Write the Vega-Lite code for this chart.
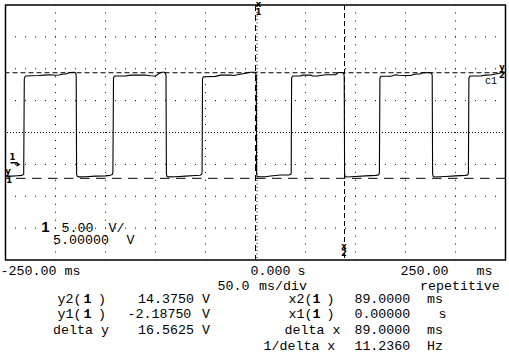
{
  "$schema": "https://vega.github.io/schema/vega-lite/v6.json",
  "width": 500,
  "height": 255,
  "autosize": "none",
  "padding": {"left": 5.5, "top": 5, "right": 3.5, "bottom": 96},
  "background": "white",
  "config": {"view": {"stroke": "black", "strokeWidth": 1.5}},
  "datasets": {
    "wave": [
      {"t":-250,"v":-1.85},{"t":-244,"v":-1.85},{"t":-238,"v":-1.78},{"t":-233.5,"v":-1.72},{"t":-231.8,"v":-1.55},{"t":-231.2,"v":13.4},{"t":-230.5,"v":13.76},{"t":-229.5,"v":13.86},{"t":-224,"v":13.9},{"t":-217,"v":13.94},{"t":-211,"v":14.0},{"t":-205,"v":14.07},{"t":-201,"v":13.98},{"t":-197,"v":14.02},{"t":-192,"v":14.18},{"t":-189,"v":14.2},{"t":-186,"v":14.42},{"t":-181,"v":14.45},{"t":-179.8,"v":14.3},{"t":-179.3,"v":13.9},{"t":-178.9,"v":-1.5},{"t":-178.3,"v":-1.88},{"t":-177,"v":-1.96},{"t":-170,"v":-1.95},{"t":-160,"v":-1.85},{"t":-150,"v":-1.8},{"t":-145.5,"v":-1.72},{"t":-143.2,"v":-1.6},{"t":-142.6,"v":-1.3},
      {"t":-142.0,"v":13.5},{"t":-141.3,"v":13.8},{"t":-140,"v":13.86},{"t":-130,"v":13.86},{"t":-125,"v":14.0},{"t":-110,"v":14.02},{"t":-105,"v":13.9},{"t":-100,"v":13.86},{"t":-97,"v":14.2},{"t":-94,"v":14.44},{"t":-91,"v":14.45},{"t":-90,"v":14.3},{"t":-89.5,"v":13.9},{"t":-89.1,"v":-1.5},{"t":-88.5,"v":-1.88},{"t":-87,"v":-1.96},{"t":-80,"v":-1.95},{"t":-70,"v":-1.85},{"t":-60,"v":-1.75},{"t":-55.5,"v":-1.7},{"t":-53.8,"v":-1.55},{"t":-53.4,"v":-1.2},
      {"t":-53.0,"v":13.4},{"t":-52.3,"v":13.72},{"t":-51,"v":13.75},{"t":-40,"v":13.8},{"t":-35,"v":14.0},{"t":-25,"v":14.02},{"t":-22,"v":13.95},{"t":-18,"v":14.05},{"t":-10,"v":14.3},{"t":-5,"v":14.44},{"t":-0.5,"v":14.45},{"t":0.4,"v":14.2},{"t":0.8,"v":13.9},{"t":1.1,"v":-1.5},{"t":1.7,"v":-1.88},{"t":3,"v":-1.95},{"t":10,"v":-1.95},{"t":15,"v":-1.82},{"t":20,"v":-1.75},{"t":25,"v":-1.67},{"t":33,"v":-1.67},{"t":35.2,"v":-1.6},{"t":35.7,"v":-1.3},
      {"t":36.1,"v":13.5},{"t":36.8,"v":13.8},{"t":38,"v":13.86},{"t":45,"v":13.86},{"t":47,"v":14.0},{"t":55,"v":14.02},{"t":57,"v":13.86},{"t":62,"v":13.86},{"t":65,"v":13.95},{"t":70,"v":14.07},{"t":80,"v":14.07},{"t":83,"v":14.4},{"t":87.5,"v":14.42},{"t":88.3,"v":14.2},{"t":88.7,"v":13.9},{"t":89.1,"v":-1.5},{"t":89.7,"v":-1.88},{"t":91,"v":-1.98},{"t":100,"v":-1.9},{"t":110,"v":-1.8},{"t":120,"v":-1.72},{"t":123.3,"v":-1.65},{"t":123.9,"v":-1.35},
      {"t":124.4,"v":13.5},{"t":125.1,"v":13.8},{"t":126.5,"v":13.82},{"t":135,"v":13.82},{"t":138,"v":13.95},{"t":140,"v":14.07},{"t":143,"v":13.98},{"t":150,"v":13.94},{"t":155,"v":13.95},{"t":160,"v":14.18},{"t":165,"v":14.2},{"t":167,"v":14.38},{"t":175,"v":14.4},{"t":176.3,"v":14.25},{"t":176.7,"v":13.9},{"t":177.1,"v":-1.5},{"t":177.7,"v":-1.88},{"t":179,"v":-1.98},{"t":190,"v":-1.9},{"t":200,"v":-1.8},{"t":210,"v":-1.72},{"t":212.3,"v":-1.65},{"t":212.9,"v":-1.35},
      {"t":213.4,"v":13.5},{"t":214.1,"v":13.8},{"t":215.5,"v":13.86},{"t":225,"v":13.86},{"t":230,"v":14.0},{"t":235,"v":14.02},{"t":240,"v":14.18},{"t":244,"v":14.3},{"t":246,"v":14.44},{"t":250,"v":14.45}
    ],
    "vgrid": [{"t":-200},{"t":-150},{"t":-100},{"t":-50},{"t":50},{"t":100},{"t":150},{"t":200}],
    "hgrid": [{"v":20},{"v":15},{"v":10},{"v":0},{"v":-5},{"v":-10}],
    "cx": [{"t":1.5}],
    "cy": [{"v":5}],
    "y1": [{"v":-2.1875}],
    "y2": [{"v":14.375}],
    "x1": [{"t":0}],
    "x2": [{"t":89}],
    "gnd": [{"t":-237,"v":0}],
    "gndstem": [{"t":-245,"t2":-238,"v":0.25}],
    "lab": [
      {"t":-255,"v":-17.28,"text":"-250.00"},
      {"t":-191,"v":-17.28,"text":"ms"},
      {"t":-5,"v":-17.28,"text":"0.000"},
      {"t":42,"v":-17.28,"text":"s"},
      {"t":145,"v":-17.28,"text":"250.00"},
      {"t":221,"v":-17.28,"text":"ms"},
      {"t":-38,"v":-19.78,"text":"50.0"},
      {"t":3.5,"v":-19.78,"text":"ms/div"},
      {"t":164.5,"v":-19.78,"text":"repetitive"},
      {"t":-198,"v":-21.67,"text":"y2("},
      {"t":-157.5,"v":-21.67,"text":")"},
      {"t":-117.5,"v":-21.67,"text":"14.3750"},
      {"t":-53.5,"v":-21.67,"text":"V"},
      {"t":33,"v":-21.67,"text":"x2("},
      {"t":71,"v":-21.67,"text":")"},
      {"t":98.9,"v":-21.67,"text":"89.0000"},
      {"t":171.5,"v":-21.67,"text":"ms"},
      {"t":-198,"v":-24.1,"text":"y1("},
      {"t":-157.5,"v":-24.1,"text":")"},
      {"t":-128,"v":-24.1,"text":"-2.18750"},
      {"t":-53.5,"v":-24.1,"text":"V"},
      {"t":33,"v":-24.1,"text":"x1("},
      {"t":71,"v":-24.1,"text":")"},
      {"t":98.9,"v":-24.1,"text":"0.00000"},
      {"t":183,"v":-24.1,"text":"s"},
      {"t":-202.5,"v":-26.61,"text":"delta y"},
      {"t":-117.5,"v":-26.61,"text":"16.5625"},
      {"t":-53.5,"v":-26.61,"text":"V"},
      {"t":29,"v":-26.61,"text":"delta x"},
      {"t":98.9,"v":-26.61,"text":"89.0000"},
      {"t":171.5,"v":-26.61,"text":"ms"},
      {"t":8,"v":-29.04,"text":"1/delta x"},
      {"t":98.9,"v":-29.04,"text":"11.2360"},
      {"t":171.5,"v":-29.04,"text":"Hz"},
      {"t":-194,"v":-10.53,"text":"5.00"},
      {"t":-147,"v":-10.53,"text":"V/"},
      {"t":-202.5,"v":-12.49,"text":"5.00000"},
      {"t":-129,"v":-12.49,"text":"V"}
    ],
    "bold1": [
      {"t":-172,"v":-21.67,"text":"1"},
      {"t":57,"v":-21.67,"text":"1"},
      {"t":-172,"v":-24.1,"text":"1"},
      {"t":57,"v":-24.1,"text":"1"}
    ],
    "big": [{"t":-210,"v":-10.56,"text":"1"}],
    "marks": [
      {"t":3,"v":24.7,"text":"x"},
      {"t":3,"v":23.45,"text":"1"},
      {"t":88.5,"v":-13.35,"text":"x"},
      {"t":88.5,"v":-14.37,"text":"2"},
      {"t":246.5,"v":14.8,"text":"y"},
      {"t":246.5,"v":13.5,"text":"2"},
      {"t":-247.5,"v":-1.51,"text":"y"},
      {"t":-246.3,"v":-2.87,"text":"1"},
      {"t":-243,"v":0.69,"text":"1"}
    ],
    "chan": [{"t":229.5,"v":12.53,"text":"c1"}]
  },
  "layer": [
    {
      "data": {"name": "vgrid"},
      "mark": {"type": "rule", "stroke": "black", "strokeWidth": 1, "strokeDash": [1, 6.97], "strokeDashOffset": 0.5},
      "encoding": {"x": {"field": "t", "type": "quantitative", "scale": {"domain": [-250, 250], "nice": false, "zero": false}, "axis": null}}
    },
    {
      "data": {"name": "hgrid"},
      "mark": {"type": "rule", "stroke": "black", "strokeWidth": 1, "strokeDash": [1, 9], "strokeDashOffset": 0.5},
      "encoding": {"y": {"field": "v", "type": "quantitative", "scale": {"domain": [-15, 25], "nice": false, "zero": false}, "axis": null}}
    },
    {
      "data": {"name": "cx"},
      "mark": {"type": "rule", "stroke": "black", "strokeWidth": 1, "strokeDash": [1, 2.5]},
      "encoding": {"x": {"field": "t", "type": "quantitative", "scale": {"domain": [-250, 250], "nice": false, "zero": false}, "axis": null}}
    },
    {
      "data": {"name": "cy"},
      "mark": {"type": "rule", "stroke": "black", "strokeWidth": 1, "strokeDash": [1, 2], "strokeDashOffset": 0.5},
      "encoding": {"y": {"field": "v", "type": "quantitative", "scale": {"domain": [-15, 25], "nice": false, "zero": false}, "axis": null}}
    },
    {
      "data": {"name": "y2"},
      "mark": {"type": "rule", "stroke": "black", "strokeWidth": 1, "strokeDash": [5, 3]},
      "encoding": {"y": {"field": "v", "type": "quantitative", "scale": {"domain": [-15, 25], "nice": false, "zero": false}, "axis": null}}
    },
    {
      "data": {"name": "y1"},
      "mark": {"type": "rule", "stroke": "black", "strokeWidth": 1, "strokeDash": [9.5, 6.5]},
      "encoding": {"y": {"field": "v", "type": "quantitative", "scale": {"domain": [-15, 25], "nice": false, "zero": false}, "axis": null}}
    },
    {
      "data": {"name": "x1"},
      "mark": {"type": "rule", "stroke": "black", "strokeWidth": 1, "strokeDash": [6, 4]},
      "encoding": {"x": {"field": "t", "type": "quantitative", "scale": {"domain": [-250, 250], "nice": false, "zero": false}, "axis": null}}
    },
    {
      "data": {"name": "x2"},
      "mark": {"type": "rule", "stroke": "black", "strokeWidth": 1, "strokeDash": [5, 3]},
      "encoding": {"x": {"field": "t", "type": "quantitative", "scale": {"domain": [-250, 250], "nice": false, "zero": false}, "axis": null}}
    },
    {
      "data": {"name": "wave"},
      "mark": {"type": "line", "stroke": "black", "strokeWidth": 1.1, "strokeJoin": "round"},
      "encoding": {
        "x": {"field": "t", "type": "quantitative", "scale": {"domain": [-250, 250], "nice": false, "zero": false}, "axis": null},
        "y": {"field": "v", "type": "quantitative", "scale": {"domain": [-15, 25], "nice": false, "zero": false}, "axis": null}
      }
    },
    {
      "data": {"name": "gndstem"},
      "mark": {"type": "rule", "stroke": "black", "strokeWidth": 1.5},
      "encoding": {
        "x": {"field": "t", "type": "quantitative", "scale": {"domain": [-250, 250], "nice": false, "zero": false}, "axis": null},
        "x2": {"field": "t2"},
        "y": {"field": "v", "type": "quantitative", "scale": {"domain": [-15, 25], "nice": false, "zero": false}, "axis": null}
      }
    },
    {
      "data": {"name": "gnd"},
      "mark": {"type": "point", "shape": "triangle-right", "filled": true, "color": "black", "size": 22, "opacity": 1},
      "encoding": {
        "x": {"field": "t", "type": "quantitative", "scale": {"domain": [-250, 250], "nice": false, "zero": false}, "axis": null},
        "y": {"field": "v", "type": "quantitative", "scale": {"domain": [-15, 25], "nice": false, "zero": false}, "axis": null}
      }
    },
    {
      "data": {"name": "lab"},
      "mark": {"type": "text", "align": "left", "baseline": "alphabetic", "font": "Liberation Mono", "fontSize": 13.3, "color": "black"},
      "encoding": {
        "x": {"field": "t", "type": "quantitative", "scale": {"domain": [-250, 250], "nice": false, "zero": false}, "axis": null},
        "y": {"field": "v", "type": "quantitative", "scale": {"domain": [-15, 25], "nice": false, "zero": false}, "axis": null},
        "text": {"field": "text"}
      }
    },
    {
      "data": {"name": "bold1"},
      "mark": {"type": "text", "align": "left", "baseline": "alphabetic", "font": "Liberation Mono", "fontWeight": "bold", "fontSize": 13.3, "color": "black"},
      "encoding": {
        "x": {"field": "t", "type": "quantitative", "scale": {"domain": [-250, 250], "nice": false, "zero": false}, "axis": null},
        "y": {"field": "v", "type": "quantitative", "scale": {"domain": [-15, 25], "nice": false, "zero": false}, "axis": null},
        "text": {"field": "text"}
      }
    },
    {
      "data": {"name": "big"},
      "mark": {"type": "text", "align": "center", "baseline": "alphabetic", "font": "Liberation Sans", "fontWeight": "bold", "fontSize": 15, "color": "black"},
      "encoding": {
        "x": {"field": "t", "type": "quantitative", "scale": {"domain": [-250, 250], "nice": false, "zero": false}, "axis": null},
        "y": {"field": "v", "type": "quantitative", "scale": {"domain": [-15, 25], "nice": false, "zero": false}, "axis": null},
        "text": {"field": "text"}
      }
    },
    {
      "data": {"name": "marks"},
      "mark": {"type": "text", "align": "center", "baseline": "alphabetic", "font": "DejaVu Sans", "fontWeight": "bold", "fontSize": 8.5, "color": "black"},
      "encoding": {
        "x": {"field": "t", "type": "quantitative", "scale": {"domain": [-250, 250], "nice": false, "zero": false}, "axis": null},
        "y": {"field": "v", "type": "quantitative", "scale": {"domain": [-15, 25], "nice": false, "zero": false}, "axis": null},
        "text": {"field": "text"}
      }
    },
    {
      "data": {"name": "chan"},
      "mark": {"type": "text", "align": "left", "baseline": "alphabetic", "font": "Liberation Mono", "fontSize": 10, "color": "black"},
      "encoding": {
        "x": {"field": "t", "type": "quantitative", "scale": {"domain": [-250, 250], "nice": false, "zero": false}, "axis": null},
        "y": {"field": "v", "type": "quantitative", "scale": {"domain": [-15, 25], "nice": false, "zero": false}, "axis": null},
        "text": {"field": "text"}
      }
    }
  ]
}
